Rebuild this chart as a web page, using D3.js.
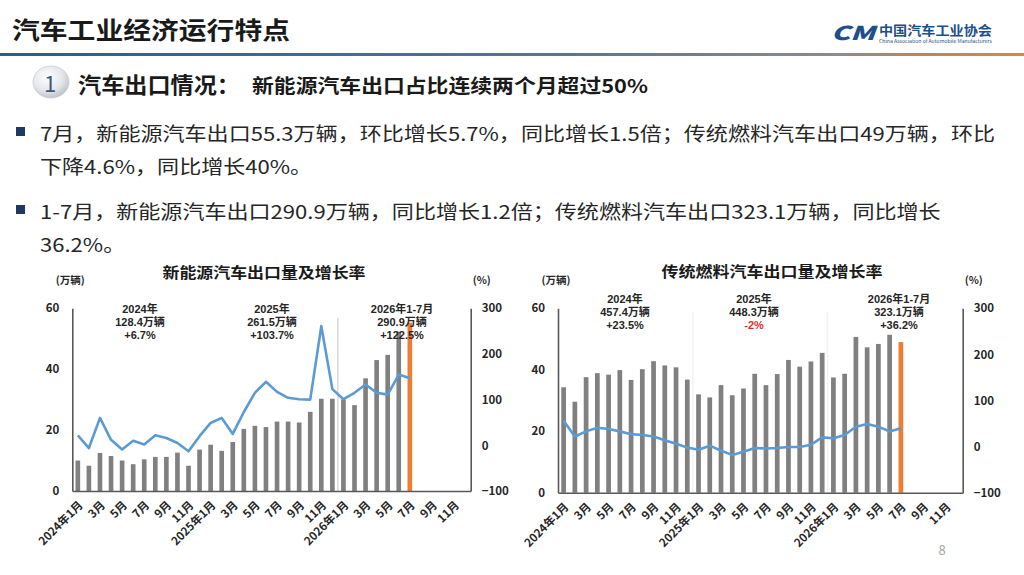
<!DOCTYPE html>
<html>
<head>
<meta charset="utf-8">
<script src="https://cdn.jsdelivr.net/npm/d3@7"></script>
<style>
  body { margin: 0; background: #fff; }
  svg { display: block; }
  text { font-family: "Noto Sans CJK SC", "Noto Sans", sans-serif; }
</style>
</head>
<body>
<svg id="slide" width="1024" height="575"></svg>
<script>
// month categories, 2024-01 .. 2026-12
const months = [
    "2024年1月", "2月", "3月", "4月", "5月", "6月", "7月", "8月", "9月", "10月", "11月", "12月",
    "2025年1月", "2月", "3月", "4月", "5月", "6月", "7月", "8月", "9月", "10月", "11月", "12月",
    "2026年1月", "2月", "3月", "4月", "5月", "6月", "7月", "8月", "9月", "10月", "11月", "12月"
];
// every other month carries a tick label
const tickMonths = months.filter((d, i) => i % 2 === 0);
// unique keys so the band scale keeps all 36 slots
const monthKeys = months.map((d, i) => i);

// 新能源 export volume (万辆) and yoy growth (%)
const nevVolume = [10.0, 8.3, 12.5, 11.5, 10.0, 8.8, 10.4, 11.2, 11.2, 12.6, 8.3, 13.6,
    15.2, 13.2, 16.1, 20.4, 21.4, 21.0, 22.8, 22.8, 22.5, 26.0, 30.3, 30.3,
    30.1, 28.2, 37.0, 43.0, 44.7, 52.3, 55.3];
const nevGrowth = [22, -6, 60, 12, -9, 10, 2, 22, 16, 5, -13, 20,
    49, 60, 25, 73, 115, 139, 117, 104, 101, 100, 261, 123,
    101, 115, 133, 115, 111, 155, 147];

// 传统燃料 export volume (万辆) and yoy growth (%)
const iceVolume = [34.3, 29.6, 37.6, 38.9, 38.4, 39.9, 36.7, 40.2, 42.8, 41.4, 40.8, 36.8,
    32.0, 31.0, 35.0, 31.7, 33.9, 38.7, 35.0, 38.6, 43.2, 41.0, 42.7, 45.5,
    37.5, 38.7, 50.7, 47.3, 48.4, 51.4, 49.0];
const iceGrowth = [56, 22, 33, 41, 38, 33, 27, 25, 22, 14, 6, -2,
    -7, 2, -9, -18, -11, -3, -4, -3, -1, -1, 4, 20,
    18, 25, 43, 49, 43, 33, 40];

const volumeTicks = [0, 20, 40, 60];
const growthTicks = [-100, 0, 100, 200, 300];

const nevNotes = [
    ["2024年", "128.4万辆", "+6.7%"],
    ["2025年", "261.5万辆", "+103.7%"],
    ["2026年1-7月", "290.9万辆", "+122.5%"]
];
const iceNotes = [
    ["2024年", "457.4万辆", "+23.5%"],
    ["2025年", "448.3万辆", "-2%"],
    ["2026年1-7月", "323.1万辆", "+36.2%"]
];

const bulletLines = [
    "7月，新能源汽车出口55.3万辆，环比增长5.7%，同比增长1.5倍；传统燃料汽车出口49万辆，环比",
    "下降4.6%，同比增长40%。",
    "1-7月，新能源汽车出口290.9万辆，同比增长1.2倍；传统燃料汽车出口323.1万辆，同比增长",
    "36.2%。"
];

let svg = d3.select("svg#slide");

function fit(sel, w) {
    sel.attr("textLength", w).attr("lengthAdjust", "spacingAndGlyphs");
}

// ---------- header ----------
let defs = svg.append("defs");
let lineGrad = defs.append("linearGradient").attr("id", "headLine");
lineGrad.append("stop").attr("offset", "0%").attr("stop-color", "#2d5b8c");
lineGrad.append("stop").attr("offset", "55%").attr("stop-color", "#5a7590");
lineGrad.append("stop").attr("offset", "82%").attr("stop-color", "#8c8c8c");
lineGrad.append("stop").attr("offset", "100%").attr("stop-color", "#e8822f");

let bubble = defs.append("radialGradient").attr("id", "bubble")
    .attr("cx", "40%").attr("cy", "35%").attr("r", "70%");
bubble.append("stop").attr("offset", "0%").attr("stop-color", "#ffffff");
bubble.append("stop").attr("offset", "60%").attr("stop-color", "#e4e6ea");
bubble.append("stop").attr("offset", "100%").attr("stop-color", "#b9bec6");

svg.append("text").attr("x", 12).attr("y", 28)
    .attr("dominant-baseline", "central")
    .style("font-size", "24px").style("font-weight", "bold").attr("fill", "#1a1a1a")
    .text("汽车工业经济运行特点").call(fit, 278);

svg.append("rect").attr("x", 0).attr("y", 53).attr("width", 1024).attr("height", 3)
    .attr("fill", "url(#headLine)");

// logo
svg.append("text").attr("x", 831).attr("y", 31).attr("dominant-baseline", "central")
    .style("font-size", "19px").style("font-weight", "900").style("font-style", "italic")
    .attr("fill", "#1d4f8b").text("CM").call(fit, 44);
svg.append("text").attr("x", 879).attr("y", 29).attr("dominant-baseline", "central")
    .style("font-size", "13px").style("font-weight", "bold").attr("fill", "#1d4f8b")
    .text("中国汽车工业协会").call(fit, 113);
svg.append("text").attr("x", 879).attr("y", 41).attr("dominant-baseline", "central")
    .style("font-size", "4.5px").attr("fill", "#1d4f8b")
    .text("China Association of Automobile Manufacturers").call(fit, 113);

// section heading
svg.append("ellipse").attr("cx", 51).attr("cy", 82).attr("rx", 18).attr("ry", 16)
    .attr("fill", "url(#bubble)").attr("stroke", "#c9ccd2").attr("stroke-width", 0.8);
svg.append("text").attr("x", 50).attr("y", 82).attr("dominant-baseline", "central")
    .attr("text-anchor", "middle").style("font-size", "22px").attr("fill", "#3d5a80").text("1");
svg.append("text").attr("x", 78).attr("y", 83).attr("dominant-baseline", "central")
    .style("font-size", "22px").style("font-weight", "bold").attr("fill", "#1a1a1a")
    .text("汽车出口情况：").call(fit, 162);
svg.append("text").attr("x", 252).attr("y", 84).attr("dominant-baseline", "central")
    .style("font-size", "19px").style("font-weight", "bold").attr("fill", "#1a1a1a")
    .text("新能源汽车出口占比连续两个月超过50%").call(fit, 396);

// bullets
let bulletY = [132, 165, 210, 243];
let stretch = 1;
bulletLines.forEach(function (line, i) {
    let t = svg.append("text").attr("x", 40).attr("y", bulletY[i])
        .attr("dominant-baseline", "central")
        .style("font-size", "19px").attr("fill", "#262626").text(line);
    let natural = t.node().getComputedTextLength();
    if (i === 0) stretch = 955 / natural;
    t.call(fit, natural * stretch);
});
[132, 210].forEach(function (y) {
    svg.append("rect").attr("x", 16).attr("y", y - 5).attr("width", 9).attr("height", 9)
        .attr("fill", "#1f3864");
});

// ---------- charts ----------
function drawChart(cfg) {
    let g = svg.append("g");
    let x = d3.scaleBand().domain(monthKeys).range([cfg.left, cfg.right]).paddingInner(0.58).paddingOuter(0.29);
    let y = d3.scaleLinear().domain([0, 60]).range([cfg.bottom, cfg.top]);
    let y2 = d3.scaleLinear().domain([-100, 300]).range([cfg.bottom, cfg.top]);
    let cx = i => x(i) + x.bandwidth() / 2;

    // year separators
    cfg.separators.forEach(function (s) {
        g.append("line")
            .attr("x1", x(s) - x.step() * 0.29).attr("x2", x(s) - x.step() * 0.29)
            .attr("y1", cfg.sepTop).attr("y2", cfg.bottom)
            .attr("stroke", cfg.sepColor).attr("stroke-width", 1);
    });

    // bars
    g.selectAll("rect.bar").data(cfg.volume).enter().append("rect")
        .attr("class", "bar")
        .attr("x", (d, i) => x(i))
        .attr("width", x.bandwidth())
        .attr("y", d => y(d))
        .attr("height", d => y(0) - y(d))
        .attr("fill", (d, i) => i === cfg.volume.length - 1 ? "#ed7d31" : "#808080");

    // growth line
    let line = d3.line().x((d, i) => cx(i)).y(d => y2(d));
    g.append("path").datum(cfg.growth).attr("d", line)
        .attr("fill", "none").attr("stroke", "#5b9bd5").attr("stroke-width", 2.6)
        .attr("stroke-linejoin", "round");

    // axes
    let leftAxis = d3.axisLeft(y).tickValues(volumeTicks).tickSize(0).tickSizeOuter(0).tickPadding(13);
    let rightAxis = d3.axisRight(y2).tickValues(growthTicks).tickSize(0).tickSizeOuter(0).tickPadding(11);
    let bottomAxis = d3.axisBottom(x).tickValues(monthKeys.filter(i => i % 2 === 0))
        .tickFormat(i => tickMonths[i / 2]).tickSize(0).tickSizeOuter(0);

    [[leftAxis, cfg.left], [rightAxis, cfg.right]].forEach(function (a) {
        let ag = g.append("g").attr("transform", "translate(" + a[1] + ",0)").call(a[0]);
        ag.select("path.domain").attr("stroke", "#595959").attr("stroke-width", 1.6);
        ag.selectAll("text").style("font-size", "11.5px").style("font-weight", "bold")
            .attr("fill", "#262626").style("font-family", "'Noto Sans CJK SC', sans-serif");
    });
    let bg = g.append("g").attr("transform", "translate(0," + cfg.bottom + ")").call(bottomAxis);
    bg.select("path.domain").attr("stroke", "#595959").attr("stroke-width", 1.6);
    bg.selectAll("text")
        .attr("x", 0).attr("y", 0).attr("dy", "0.35em")
        .attr("transform", "translate(3,12) rotate(-45)")
        .attr("text-anchor", "end")
        .style("font-size", "11.5px").style("font-weight", "bold")
        .attr("fill", "#262626").style("font-family", "'Noto Sans CJK SC', sans-serif");

    // titles and units
    svg.append("text").attr("x", cfg.titleX).attr("y", cfg.titleY)
        .attr("text-anchor", "middle").attr("dominant-baseline", "central")
        .style("font-size", "15px").style("font-weight", "bold").attr("fill", "#1a1a1a")
        .text(cfg.title).call(fit, cfg.titleW);
    svg.append("text").attr("x", cfg.left - 2).attr("y", 279)
        .attr("text-anchor", "middle").attr("dominant-baseline", "central")
        .style("font-size", "10.5px").style("font-weight", "bold").attr("fill", "#262626").text("(万辆)");
    svg.append("text").attr("x", cfg.right + 11).attr("y", 279)
        .attr("text-anchor", "middle").attr("dominant-baseline", "central")
        .style("font-size", "10.5px").style("font-weight", "bold").attr("fill", "#262626").text("(%)");

    // annotations: a latin primary font keeps the line boxes tight
    cfg.notes.forEach(function (note, k) {
        note.forEach(function (s, j) {
            svg.append("text").attr("x", cfg.noteX[k]).attr("y", cfg.noteY + j * 13)
                .attr("text-anchor", "middle").attr("dominant-baseline", "central")
                .style("font-family", "'Liberation Sans', 'Noto Sans CJK SC', sans-serif")
                .style("font-size", "11px").style("font-weight", "bold")
                .attr("fill", s === "-2%" ? "#e0302a" : "#262626")
                .text(s);
        });
    });
}

drawChart({
    left: 72.3, right: 470.7, top: 308.3, bottom: 491,
    volume: nevVolume, growth: nevGrowth,
    separators: [24], sepTop: 318, sepColor: "#c8c8c8",
    title: "新能源汽车出口量及增长率", titleX: 264, titleY: 271, titleW: 203,
    notes: nevNotes, noteX: [140, 272, 402], noteY: 308.5
});
drawChart({
    left: 558, right: 962.7, top: 308.3, bottom: 492.7,
    volume: iceVolume, growth: iceGrowth,
    separators: [12, 24], sepTop: 312, sepColor: "#ededed",
    title: "传统燃料汽车出口量及增长率", titleX: 772, titleY: 270, titleW: 221,
    notes: iceNotes, noteX: [625, 754, 899], noteY: 298.5
});

// page number
svg.append("text").attr("x", 942).attr("y", 549).attr("text-anchor", "middle")
    .attr("dominant-baseline", "central").style("font-size", "13px").attr("fill", "#a6a6a6").text("8");
</script>
</body>
</html>
